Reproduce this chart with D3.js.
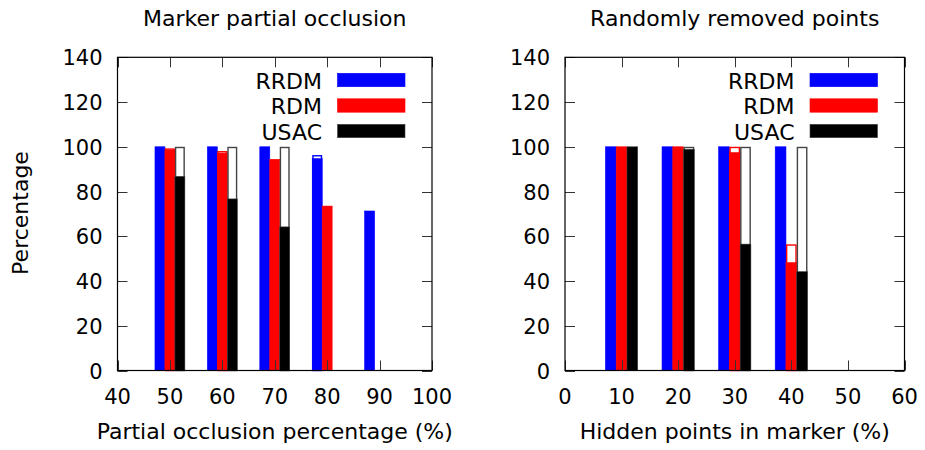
<!DOCTYPE html>
<html>
<head>
<meta charset="utf-8">
<script src="https://cdn.jsdelivr.net/npm/d3@7"></script>
<style>
  html, body { margin: 0; padding: 0; background: #fff; }
  svg { display: block; font-family: "DejaVu Sans", sans-serif; }
</style>
</head>
<body>
<svg id="chart" width="925" height="450"></svg>
<script>
// Series names and colours
const seriesNames = ["RRDM", "RDM", "USAC"];
const seriesColors = ["#0000ff", "#ff0000", "#000000"];
const seriesStroke = ["#0000ff", "#ff0000", "#444444"];

// Left panel: marker partial occlusion
const occlusionCats = [50, 60, 70, 80, 90];
const occlusionRRDM = [100, 100, 100, 94.7, 71.3];
const occlusionRRDMTotal = [100, 100, 100, 96.3, 71.3];
const occlusionRDM = [98.6, 97.2, 94.4, 73.5, 0];
const occlusionRDMTotal = [99.3, 98.1, 94.4, 73.5, 0];
const occlusionUSAC = [86.8, 76.7, 64.2, 0, 0];
const occlusionUSACTotal = [100, 100, 100, 0, 0];

// Right panel: randomly removed points
const removedCats = [10, 20, 30, 40, 50];
const removedRRDM = [100, 100, 100, 100, 0];
const removedRRDMTotal = [100, 100, 100, 100, 0];
const removedRDM = [100, 100, 97.4, 48.2, 0];
const removedRDMTotal = [100, 100, 100, 56.4, 0];
const removedUSAC = [100, 98.9, 56.5, 44.2, 0];
const removedUSACTotal = [100, 100, 100, 100, 0];

// Axis ticks
const yTicks = [0, 20, 40, 60, 80, 100, 120, 140];
const occlusionXTicks = [40, 50, 60, 70, 80, 90, 100];
const removedXTicks = [0, 10, 20, 30, 40, 50, 60];

const svg = d3.select("#chart");
const FONT = 22;
const TICK_FONT = 21;
const TICK = 10;
const plotTop = 57.3, plotBottom = 370.5;

function panel(opts) {
  const g = svg.append("g");
  const x = d3.scaleLinear().domain(opts.xDomain).range([opts.left, opts.right]);
  const y = d3.scaleLinear().domain([0, 140]).range([plotBottom, plotTop]);

  const barW = x(opts.xDomain[0] + 1.9) - x(opts.xDomain[0]);
  const offsets = [-1.5, -0.5, 0.5];

  opts.series.forEach((s, si) => {
    opts.cats.forEach((c, i) => {
      const cx = x(c) + offsets[si] * barW;
      const tot = s.total[i];
      const val = s.value[i];
      if (tot > val) {
        // outlined box for the total
        g.append("rect")
          .attr("x", cx + 0.7).attr("width", barW - 1.4)
          .attr("y", y(tot) + 0.7).attr("height", y(0) - y(tot) - 0.7)
          .attr("fill", "#fff")
          .attr("stroke", seriesStroke[si]).attr("stroke-width", 1.4);
      }
      if (val > 0) {
        g.append("rect")
          .attr("x", cx).attr("width", barW)
          .attr("y", y(val)).attr("height", y(0) - y(val))
          .attr("fill", seriesColors[si])
          .attr("stroke", seriesStroke[si]).attr("stroke-width", 0.6);
      }
    });
  });

  // ticks on all four sides, pointing inward
  const tg = g.append("g").attr("stroke", "#333").attr("stroke-width", 1);
  yTicks.forEach(t => {
    const yy = Math.round(y(t)) + 0.5;
    tg.append("line").attr("x1", opts.left).attr("x2", opts.left + TICK).attr("y1", yy).attr("y2", yy);
    tg.append("line").attr("x1", opts.right).attr("x2", opts.right - TICK).attr("y1", yy).attr("y2", yy);
  });
  opts.xTicks.forEach(t => {
    const xx = Math.round(x(t)) + 0.5;
    tg.append("line").attr("x1", xx).attr("x2", xx).attr("y1", plotBottom).attr("y2", plotBottom - TICK);
    tg.append("line").attr("x1", xx).attr("x2", xx).attr("y1", plotTop).attr("y2", plotTop + TICK);
  });

  // frame
  g.append("rect")
    .attr("x", opts.left).attr("y", plotTop)
    .attr("width", opts.right - opts.left).attr("height", plotBottom - plotTop)
    .attr("fill", "none").attr("stroke", "#000").attr("stroke-width", 1.2);

  // tick labels
  yTicks.forEach(t => {
    g.append("text")
      .attr("x", opts.left - 15).attr("y", y(t) + 8)
      .attr("text-anchor", "end").attr("font-size", TICK_FONT)
      .text(t);
  });
  opts.xTicks.forEach(t => {
    g.append("text")
      .attr("x", x(t)).attr("y", 403.5)
      .attr("text-anchor", "middle").attr("font-size", TICK_FONT)
      .text(t);
  });

  // title and x label
  const mid = (opts.left + opts.right) / 2;
  g.append("text").attr("x", mid).attr("y", 26)
    .attr("text-anchor", "middle").attr("font-size", FONT).text(opts.title);
  g.append("text").attr("x", mid).attr("y", 439)
    .attr("text-anchor", "middle").attr("font-size", FONT).text(opts.xLabel);

  // legend
  seriesNames.forEach((name, si) => {
    const ly = 73.3 + si * 25.5;
    g.append("text")
      .attr("x", opts.right - 110).attr("y", ly + 15.2)
      .attr("text-anchor", "end").attr("font-size", FONT).text(name);
    g.append("rect")
      .attr("x", opts.right - 94.5).attr("y", ly)
      .attr("width", 67.5).attr("height", 13.4)
      .attr("fill", seriesColors[si])
      .attr("stroke", seriesStroke[si]).attr("stroke-width", 0.6);
  });
}

panel({
  left: 117.5, right: 432,
  xDomain: [40, 100], xTicks: occlusionXTicks, cats: occlusionCats,
  title: "Marker partial occlusion",
  xLabel: "Partial occlusion percentage (%)",
  series: [
    { value: occlusionRRDM, total: occlusionRRDMTotal },
    { value: occlusionRDM, total: occlusionRDMTotal },
    { value: occlusionUSAC, total: occlusionUSACTotal }
  ]
});

panel({
  left: 565, right: 904.5,
  xDomain: [0, 60], xTicks: removedXTicks, cats: removedCats,
  title: "Randomly removed points",
  xLabel: "Hidden points in marker (%)",
  series: [
    { value: removedRRDM, total: removedRRDMTotal },
    { value: removedRDM, total: removedRDMTotal },
    { value: removedUSAC, total: removedUSACTotal }
  ]
});

// shared y label
svg.append("text")
  .attr("transform", "translate(28,213) rotate(-90)")
  .attr("text-anchor", "middle").attr("font-size", FONT)
  .text("Percentage");
</script>
</body>
</html>
